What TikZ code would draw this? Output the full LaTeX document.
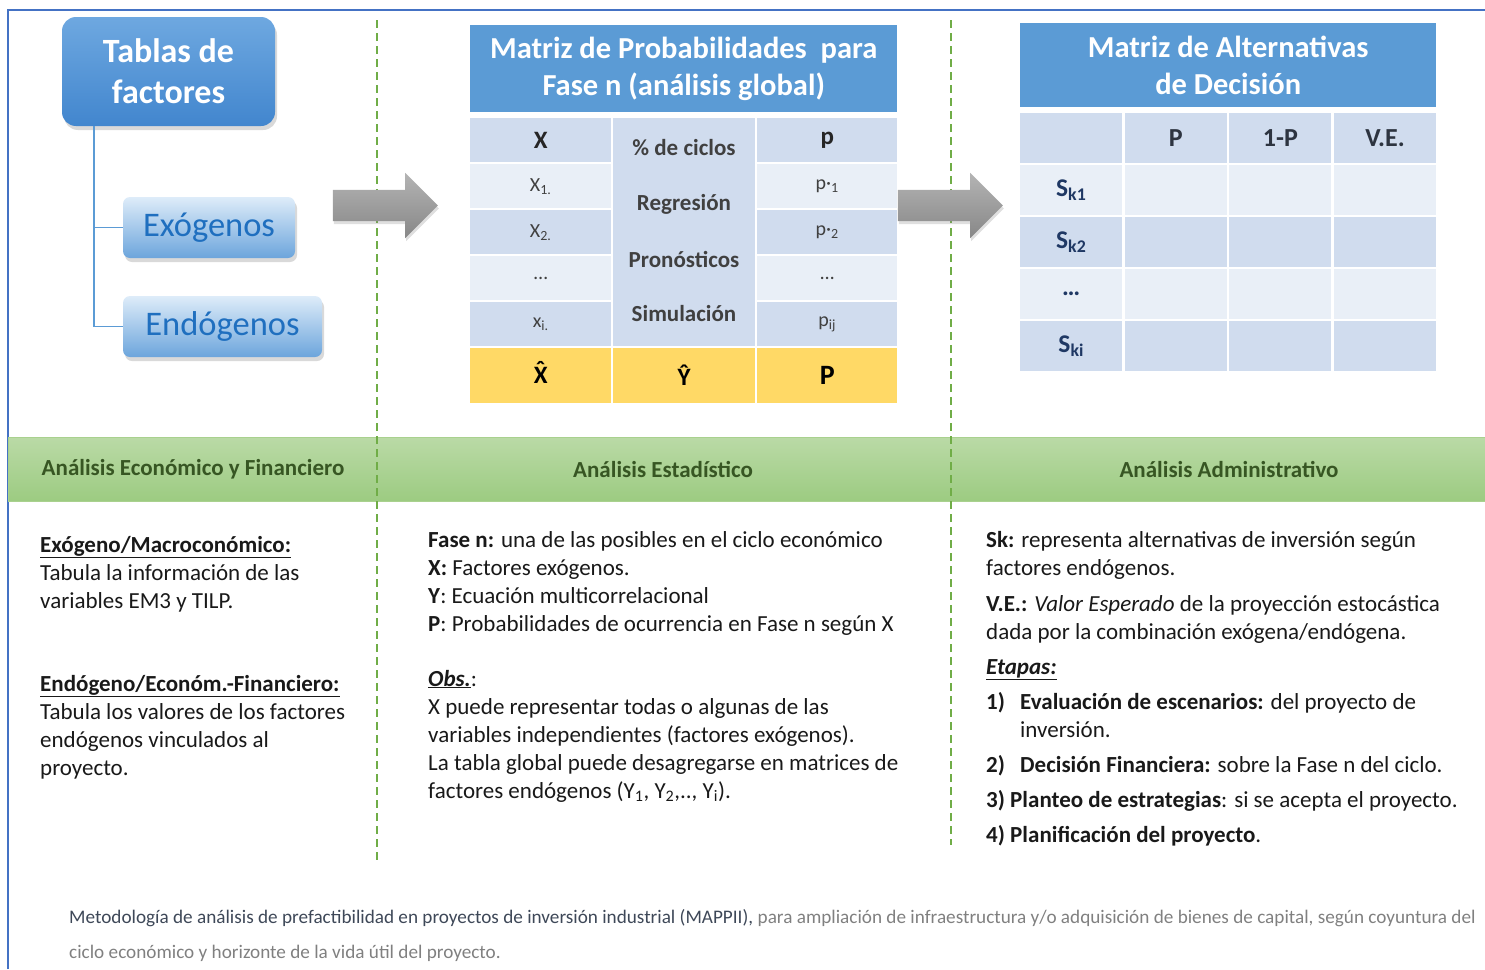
\documentclass[tikz,border=0pt]{standalone}
\usepackage{fontspec}
\setmainfont{Carlito}
\usetikzlibrary{positioning,shadows,shapes.arrows}
\definecolor{frameblue}{RGB}{68,114,196}
\definecolor{titleblue}{RGB}{91,155,213}
\definecolor{mainbluetop}{RGB}{110,168,224}
\definecolor{mainbluebottom}{RGB}{66,134,206}
\definecolor{subtop}{RGB}{222,236,249}
\definecolor{subbottom}{RGB}{108,165,220}
\definecolor{boxtext}{RGB}{31,111,191}
\definecolor{celldark}{RGB}{208,220,238}
\definecolor{celllight}{RGB}{233,239,247}
\definecolor{cellyellow}{RGB}{255,217,102}
\definecolor{celltext}{RGB}{64,64,64}
\definecolor{headtext}{RGB}{45,52,64}
\definecolor{skblue}{RGB}{31,56,100}
\definecolor{guidegreen}{RGB}{112,173,71}
\definecolor{bandtop}{RGB}{186,218,166}
\definecolor{bandbottom}{RGB}{156,203,129}
\definecolor{bandedge}{RGB}{169,209,142}
\definecolor{bandtext}{RGB}{55,86,35}
\definecolor{arrowtop}{RGB}{180,180,180}
\definecolor{arrowbottom}{RGB}{135,135,135}
\definecolor{captiondark}{RGB}{62,72,88}
\definecolor{captiongray}{RGB}{128,128,128}
\newcommand{\hatletter}[1]{\ooalign{#1\cr\hidewidth\raisebox{0.2em}{\char"02C6}\hidewidth\cr}}
\tikzset{
    factor main/.style={
        rounded corners=14pt,
        top color=mainbluetop,
        bottom color=mainbluebottom,
        drop shadow={opacity=0.3,shadow xshift=2pt,shadow yshift=-4pt},
        text=white,
        align=center,
        minimum width=213pt,
        minimum height=109pt,
        font=\fontsize{34}{41}\selectfont\bfseries
    },
    factor sub/.style={
        rounded corners=7pt,
        top color=subtop,
        bottom color=subbottom,
        drop shadow={opacity=0.3,shadow xshift=2pt,shadow yshift=-4pt},
        text=boxtext,
        minimum height=61pt,
        font=\fontsize{34.5}{40}\selectfont
    },
    tree line/.style={titleblue, line width=1.5pt},
    fat arrow/.style={
        single arrow,
        single arrow head extend=17pt,
        inner xsep=0pt,
        inner ysep=15.5pt,
        minimum height=105pt,
        top color=arrowtop,
        bottom color=arrowbottom,
        drop shadow={opacity=0.25,shadow xshift=1pt,shadow yshift=-3pt}
    },
    guide/.style={guidegreen, line width=2pt, dash pattern=on 8pt off 5pt},
    band/.style={
        top color=bandtop,
        bottom color=bandbottom,
        draw=bandedge,
        line width=1pt,
        minimum width=1477pt,
        minimum height=64pt,
        inner sep=0pt
    },
    band label/.style={text=bandtext, font=\fontsize{23}{26}\selectfont\bfseries},
    title cell/.style={
        fill=titleblue,
        text=white,
        align=center,
        inner sep=0pt,
        font=\fontsize{30.5}{37}\selectfont\bfseries
    },
    cell/.style={inner sep=0pt, anchor=north west},
    cell head/.style={font=\fontsize{25}{28}\selectfont\bfseries, text=black!85},
    cell entry/.style={font=\fontsize{20}{22}\selectfont, text=celltext},
    cell method/.style={font=\fontsize{23}{26}\selectfont\bfseries, text=celltext},
    alt head/.style={font=\fontsize{26}{28}\selectfont\bfseries, text=headtext},
    alt row/.style={font=\fontsize{25.5}{28}\selectfont\bfseries, text=skblue},
    note/.style={
        align=left,
        inner sep=0pt,
        anchor=base west,
        text=black!90,
        font=\fontsize{23}{28}\selectfont
    },
    caption note/.style={
        align=left,
        inner sep=0pt,
        anchor=base west,
        text=captiongray,
        font=\fontsize{19.2}{35}\selectfont
    }
}

\begin{document}
\begin{tikzpicture}[x=1pt,y=-1pt]
    \useasboundingbox (0,0) rectangle (1485,969);

    \draw[frameblue, line width=1.5pt] (8,969) -- (8,10) -- (1485,10);

    \node[band, anchor=north west] (band) at (8,437) {};
    \node[band label] (bandeco) at (193,469) {Análisis Económico y Financiero};
    \node[band label] (bandstat) at (663,469) {Análisis Estadístico};
    \node[band label] (bandadm) at (1229,469) {Análisis Administrativo};

    \draw[guide] (377,20) -- (377,860);
    \draw[guide] (951,20) -- (951,845);

    \node[factor main] (tablas) at (168.5,71.5) {Tablas de\\factores};
    \node[factor sub, minimum width=172pt] (exo) at (209,227.5) {Exógenos};
    \node[factor sub, minimum width=199pt] (endo) at (222.5,326.5) {Endógenos};

    \coordinate (treetop) at (94,126);
    \draw[tree line] (treetop) |- (exo.west);
    \draw[tree line] (treetop) |- (endo.west);

    \node[fat arrow] (arrowa) at (377.5,205.5) {};
    \node[fat arrow] (arrowb) at (942.5,205.5) {};

    \node[title cell, minimum width=427pt, minimum height=87pt, anchor=north west] (mtitle) at (470,25)
        {Matriz de Probabilidades\ \ para\\Fase n (análisis global)};

    \foreach \r/\c/\xv/\pv in {0/celldark/{\textbf{X}}/{\textbf{p}},
                                1/celllight/{X\textsubscript{1.}}/{p{\textperiodcentered}\textsubscript{1}},
                                2/celldark/{X\textsubscript{2.}}/{p{\textperiodcentered}\textsubscript{2}},
                                3/celllight/{\ldots}/{\ldots},
                                4/celldark/{x\textsubscript{i.}}/{p\textsubscript{ij}}} {
        \node[cell, fill=\c, minimum width=141pt, minimum height=44pt] (mx\r) at (470,118+46*\r) {};
        \node[cell, fill=\c, minimum width=140pt, minimum height=44pt] (mp\r) at (757,118+46*\r) {};
        \ifnum\r=0
            \node[cell head] at (mx\r.center) {\xv};
            \node[cell head] at (mp\r.center) {\pv};
        \else
            \node[cell entry] at (mx\r.center) {\xv};
            \node[cell entry] at (mp\r.center) {\pv};
        \fi
    }
    \node[cell, fill=celldark, minimum width=142pt, minimum height=228pt] (mmid) at (613,118) {};
    \node[cell method] (mciclos) at (684,148) {\% de ciclos};
    \node[cell method] (mreg) at (684,204) {Regresión};
    \node[cell method] (mpron) at (684,259) {Pronósticos};
    \node[cell method] (msim) at (684,314) {Simulación};

    \node[cell, fill=cellyellow, minimum width=141pt, minimum height=55pt] (mxhat) at (470,348) {};
    \node[cell, fill=cellyellow, minimum width=142pt, minimum height=55pt] (myhat) at (613,348) {};
    \node[cell, fill=cellyellow, minimum width=140pt, minimum height=55pt] (mptot) at (757,348) {};
    \node[cell head, text=black] at (mxhat.center) {\hatletter{X}};
    \node[cell head, text=black] at (myhat.center) {\^{Y}};
    \node[cell head, text=black, font=\fontsize{28}{30}\selectfont\bfseries] at (mptot.center) {P};

    \node[title cell, minimum width=416pt, minimum height=84pt, anchor=north west] (atitle) at (1020,23)
        {Matriz de Alternativas\\de Decisión};

    \foreach \r/\c/\sv in {0/celldark/{},
                           1/celllight/{S\textsubscript{k1}},
                           2/celldark/{S\textsubscript{k2}},
                           3/celllight/{\ldots},
                           4/celldark/{S\textsubscript{ki}}} {
        \foreach \k in {0,1,2,3} {
            \node[cell, fill=\c, minimum width=102pt, minimum height=50pt] (a\r\k) at (1020+104.6*\k,113+52*\r) {};
        }
        \node[alt row] at (a\r0.center) {\sv};
    }
    \node[alt head] at (a01.center) {P};
    \node[alt head] at (a02.center) {1-P};
    \node[alt head] at (a03.center) {V.E.};

    \node[note] (exonote) at (40,608) {\underline{\textbf{Exógeno/Macroconómico:}}\\Tabula la información de las\\variables EM3 y TILP.};
    \node[note] (endonote) at (40,775) {\underline{\textbf{Endógeno/Económ.-Financiero:}}\\Tabula los valores de los factores\\endógenos vinculados al\\proyecto.};

    \node[note] (fasenote) at (428,631) {\textbf{Fase n:} una de las posibles en el ciclo económico\\\textbf{X:} Factores exógenos.\\\textbf{Y}: Ecuación multicorrelacional\\\textbf{P}: Probabilidades de ocurrencia en Fase n según X};
    \node[note] (obsnote) at (428,798) {\underline{\textbf{\textit{Obs.}}}:\\X puede representar todas o algunas de las\\variables independientes (factores exógenos).\\La tabla global puede desagregarse en matrices de\\factores endógenos (Y\textsubscript{1}, Y\textsubscript{2},.., Y\textsubscript{i}).};

    \node[note] (sknote) at (986,842) {\textbf{Sk:} representa alternativas de inversión según\\factores endógenos.\\[8pt]%
        \textbf{V.E.:} \textit{Valor Esperado} de la proyección estocástica\\dada por la combinación exógena/endógena.\\[7pt]%
        \underline{\textbf{\textit{Etapas:}}}\\[7pt]%
        \makebox[34pt][l]{\textbf{1)}}\textbf{Evaluación de escenarios:} del proyecto de\\\hspace*{34pt}inversión.\\[7pt]%
        \makebox[34pt][l]{\textbf{2)}}\textbf{Decisión Financiera:} sobre la Fase n del ciclo.\\[7pt]%
        \textbf{3) Planteo de estrategias}: si se acepta el proyecto.\\[7pt]%
        \textbf{4) Planificación del proyecto}.};

    \node[caption note] (capnote) at (69,958) {\textcolor{captiondark}{Metodología de análisis de prefactibilidad en proyectos de inversión industrial (MAPPII),} para ampliación de infraestructura y/o adquisición de bienes de capital, según coyuntura del\\ciclo económico y horizonte de la vida útil del proyecto.};
\end{tikzpicture}
\end{document}
